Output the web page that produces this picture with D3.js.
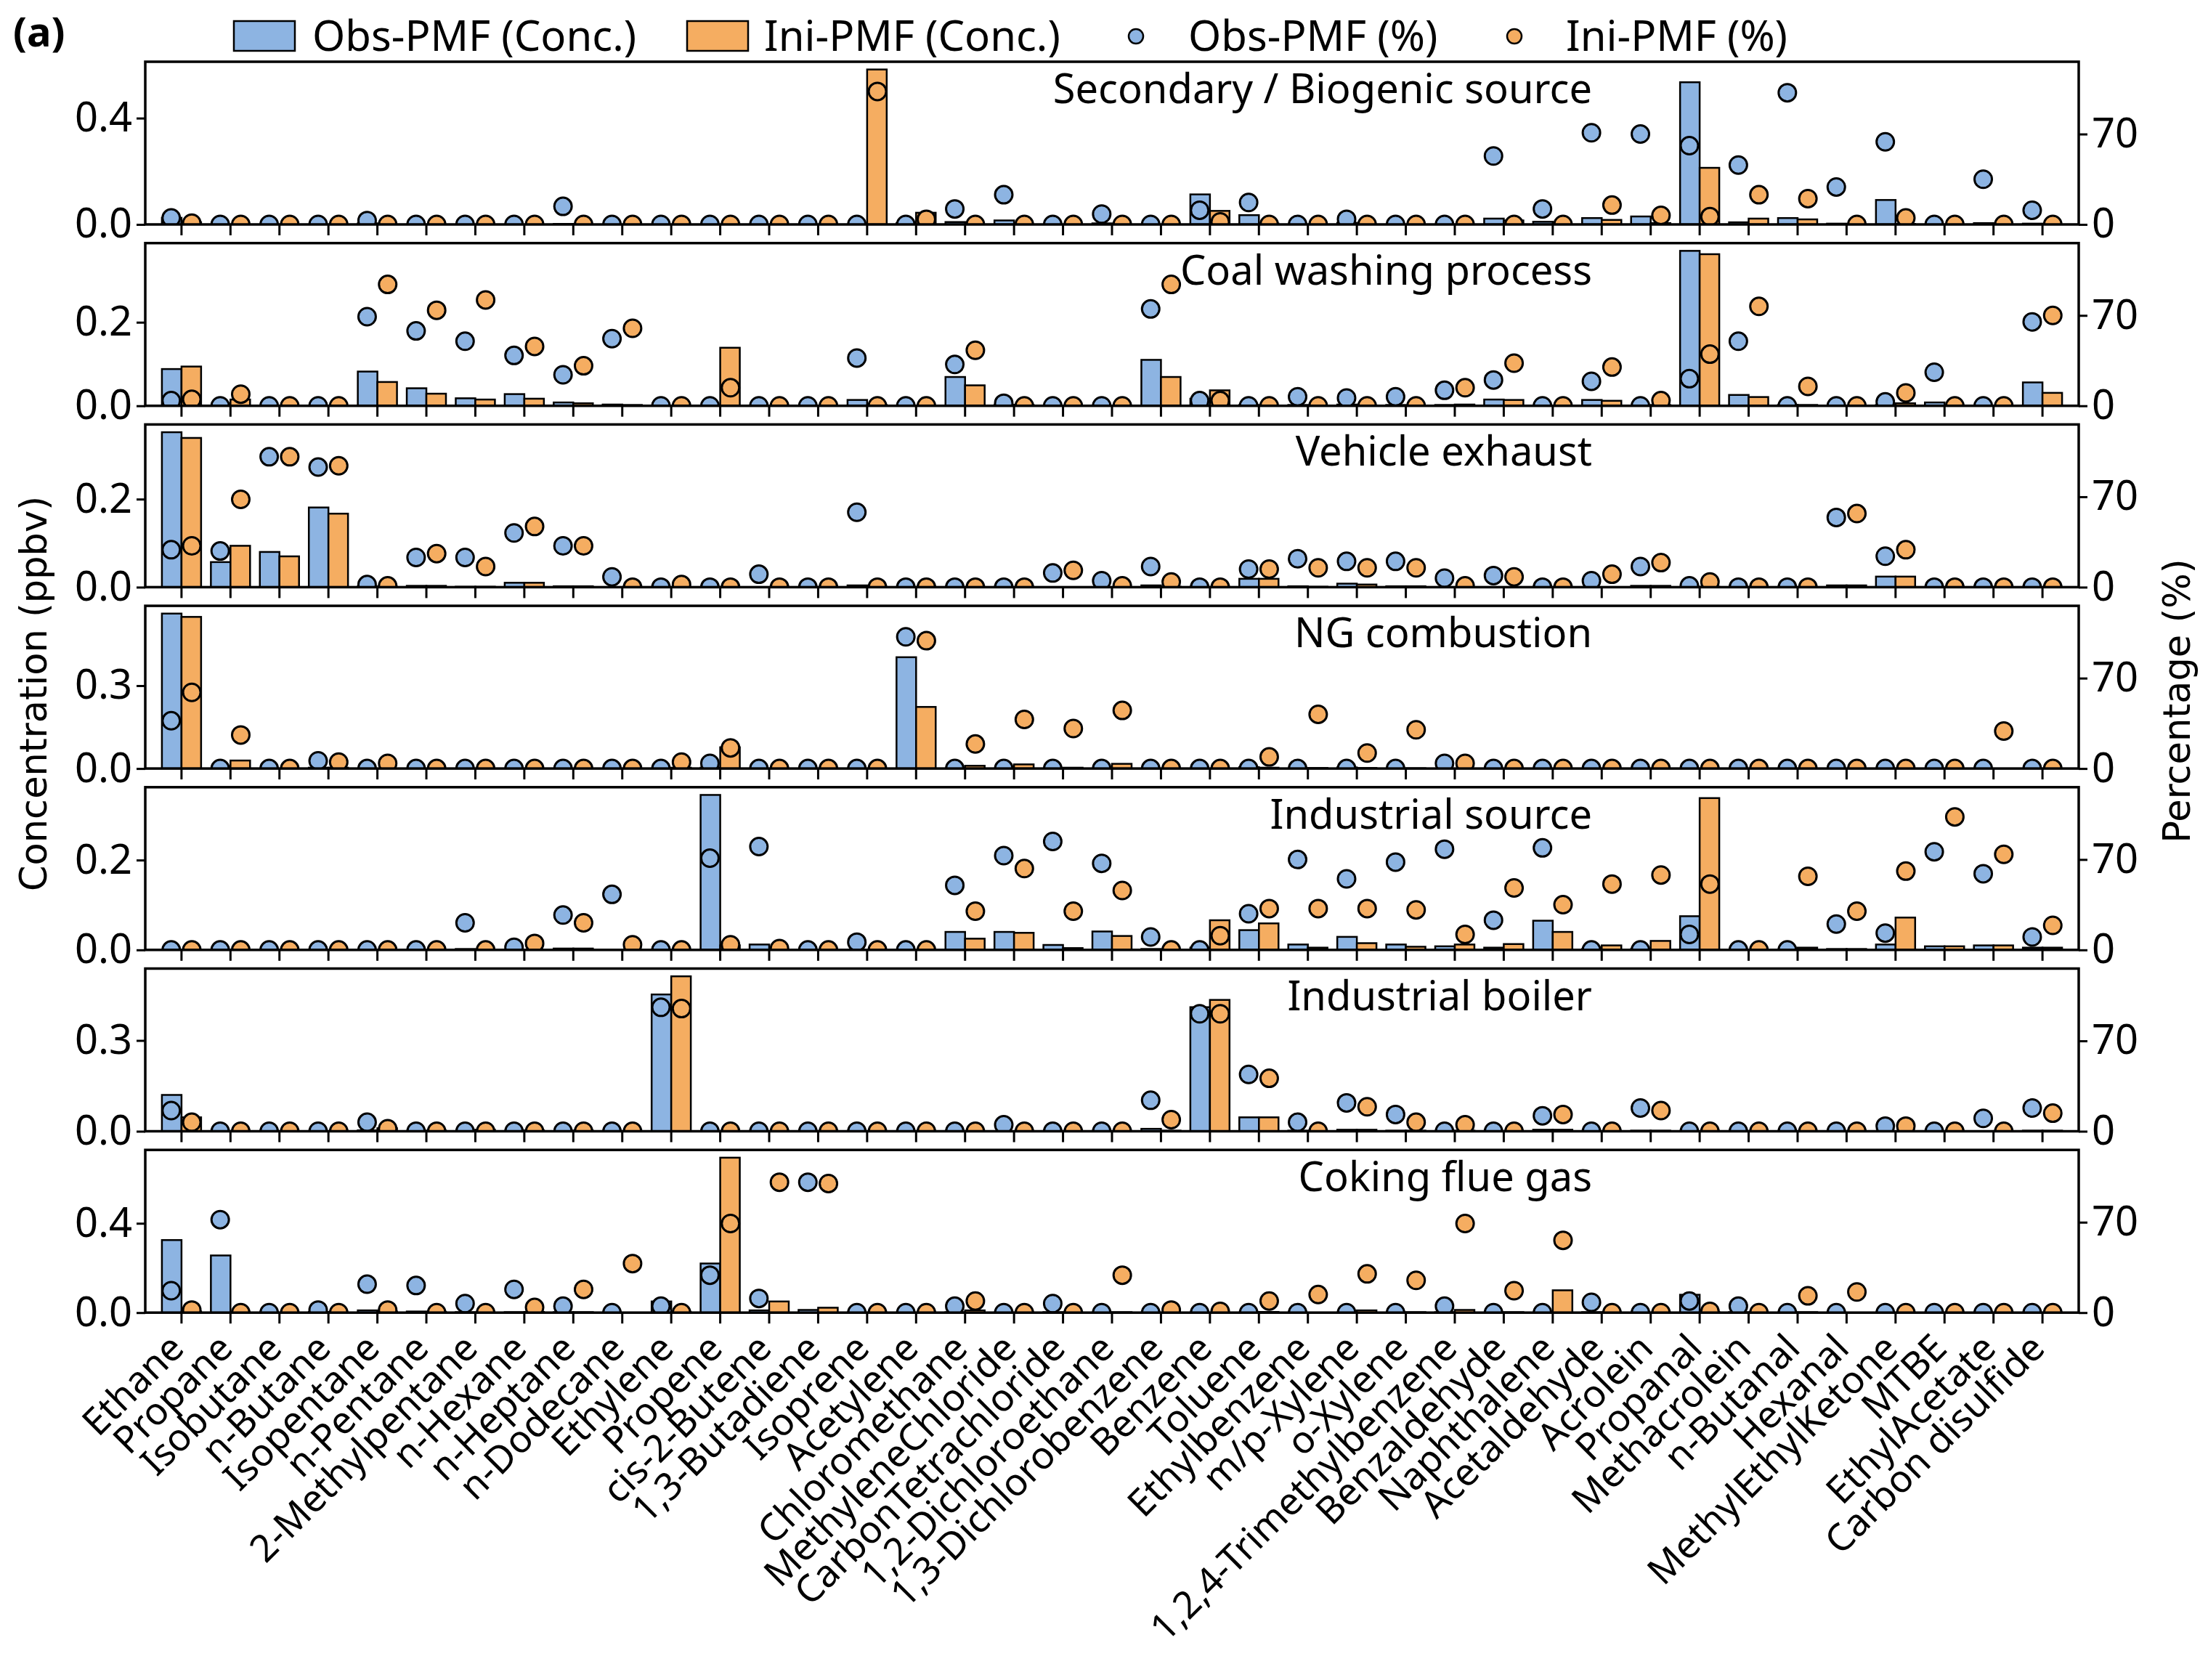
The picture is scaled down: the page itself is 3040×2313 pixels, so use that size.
<!DOCTYPE html>
<html>
<head>
<meta charset="utf-8">
<script src="https://cdn.jsdelivr.net/npm/d3@7"></script>
<style>
body { margin: 0; background: #fff; }
svg text { font-family: "Noto Sans", "Open Sans", sans-serif; fill: #000; }
svg text.axis-title { font-family: "DejaVu Sans", sans-serif; }
</style>
</head>
<body>
<div id="chart"></div>
<script>
// species on the x axis
const species = ["Ethane", "Propane", "Isobutane", "n-Butane", "Isopentane", "n-Pentane",
    "2-Methylpentane", "n-Hexane", "n-Heptane", "n-Dodecane", "Ethylene", "Propene",
    "cis-2-Butene", "1,3-Butadiene", "Isoprene", "Acetylene", "Chloromethane",
    "MethyleneChloride", "CarbonTetrachloride", "1,2-Dichloroethane", "1,3-Dichlorobenzene",
    "Benzene", "Toluene", "Ethylbenzene", "m/p-Xylene", "o-Xylene", "1,2,4-Trimethylbenzene",
    "Benzaldehyde", "Naphthalene", "Acetaldehyde", "Acrolein", "Propanal", "Methacrolein",
    "n-Butanal", "Hexanal", "MethylEthylKetone", "MTBE", "EthylAcetate", "Carbon disulfide"];

// source factors (one panel each)
const sources = ["Secondary / Biogenic source", "Coal washing process", "Vehicle exhaust",
    "NG combustion", "Industrial source", "Industrial boiler", "Coking flue gas"];

// upper tick on the concentration axis of each panel
const concTicks = [0.4, 0.2, 0.2, 0.3, 0.2, 0.3, 0.4];
const pctTicks = [0, 70];
const pctMax = 126;

// Secondary / Biogenic source
const secObsConc = [0.025,0,0,0,0.004,0,0,0,0.002,0,0,0,0,0,0,0.005,0.009,0.015,0,0.004,0,0.113,0.035,0,0.006,0,0,0.022,0.010,0.024,0.030,0.535,0.008,0.024,0.003,0.092,0,0.005,0.003];
const secIniConc = [0.008,0,0,0,0,0,0,0,0,0,0,0,0,0,0.583,0.044,0,0,0,0,0,0.051,0.003,0,0,0,0,0.015,0,0.017,0.005,0.213,0.022,0.019,0,0.002,0,0,0];
const secObsPct = [5,0,0,0,3,0,0,0,14,0,0,0,0,0,0,0,12,23,0,8,0,11,17,0,4,0,0,53,12,71,70,61,46,102,29,64,0,35,11];
const secIniPct = [1,0,0,0,0,0,0,0,0,0,0,0,0,0,103,4,0,0,0,0,0,2,0,0,0,0,0,0,0,15,7,6,23,20,0,5,0,0,0];

// Coal washing process
const coalObsConc = [0.088,0,0,0,0.082,0.042,0.018,0.028,0.008,0.003,0,0,0,0,0.014,0,0.069,0.002,0,0,0.11,0.017,0.002,0.002,0.003,0.002,0.002,0.015,0,0.014,0,0.371,0.026,0.002,0,0.002,0.008,0,0.056];
const coalIniConc = [0.094,0.015,0,0,0.057,0.029,0.015,0.017,0.006,0.002,0,0.139,0,0,0.002,0,0.049,0.002,0,0,0.069,0.037,0,0,0.001,0,0.003,0.014,0,0.012,0.002,0.363,0.021,0.002,0,0.006,0.001,0,0.031];
const coalObsPct = [4,0,0,0,69,58,50,39,24,52,0,0,0,0,37,0,32,2,0,0,75,4,0,7,6,7,12,20,0,19,0,21,50,0,0,3,26,0,65];
const coalIniPct = [5,9,0,0,94,74,82,46,31,60,0,14,0,0,0,0,43,0,0,0,94,4,0,0,0,0,14,33,0,30,4,40,77,15,0,10,0,0,70];

// Vehicle exhaust
const vehObsConc = [0.352,0.057,0.08,0.181,0.002,0.003,0.001,0.01,0.002,0,0,0,0,0,0.004,0,0,0,0,0,0.004,0,0.019,0.002,0.008,0.002,0,0,0,0,0.003,0,0,0,0.004,0.024,0,0,0];
const vehIniConc = [0.339,0.094,0.07,0.167,0.001,0.003,0.001,0.01,0.002,0,0,0,0,0,0,0,0,0,0,0,0.001,0,0.019,0.001,0.006,0.002,0,0,0,0,0.003,0.001,0,0,0.004,0.024,0,0,0];
const vehObsPct = [29,28,101,93,2,23,23,42,32,8,0,0,10,0,58,0,0,0,11,5,16,0,14,22,20,20,7,9,0,5,16,1,0,0,54,24,0,0,0];
const vehIniPct = [32,68,101,94,1,26,16,47,32,0,2,0,0,0,0,0,0,0,13,1,4,0,14,15,15,15,1,8,0,10,19,4,0,0,57,29,0,0,0];

// NG combustion
const ngObsConc = [0.561,0,0,0.003,0,0,0,0,0,0,0,0.003,0,0,0,0.403,0,0,0,0,0,0,0.005,0,0.004,0,0,0,0,0,0,0,0,0,0,0,0,0,0];
const ngIniConc = [0.549,0.029,0,0.003,0,0,0,0,0,0,0.003,0.077,0,0,0,0.223,0.01,0.015,0.003,0.017,0,0,0.003,0.002,0.002,0.001,0,0,0,0,0,0,0,0,0,0,0,0,0];
const ngObsPct = [37,0,0,6,0,0,0,0,0,0,0,4,0,0,0,102,0,0,0,0,0,0,0,0,0,0,4,0,0,0,0,0,0,0,0,0,0,0,0];
const ngIniPct = [59,26,0,5,4,0,0,0,0,0,5,16,0,0,0,99,19,38,31,45,0,0,9,42,12,30,4,0,0,0,0,0,0,0,0,0,0,29,0];

// Industrial source
const indObsConc = [0,0,0,0,0,0,0.002,0,0.003,0,0,0.345,0.012,0,0,0,0.04,0.04,0.011,0.041,0.002,0.005,0.044,0.012,0.029,0.012,0.008,0.005,0.065,0.002,0.002,0.075,0,0.001,0.002,0.012,0.008,0.01,0.005];
const indIniConc = [0,0,0,0,0,0,0,0,0.003,0,0,0.01,0,0,0,0,0.025,0.038,0.004,0.031,0,0.066,0.059,0.005,0.015,0.007,0.012,0.013,0.04,0.01,0.02,0.338,0,0.005,0.002,0.072,0.008,0.01,0.005];
const indObsPct = [0,0,0,0,0,0,21,2,27,43,0,71,80,0,6,0,50,73,84,67,10,0,28,70,55,68,78,23,79,0,0,12,0,0,20,13,76,59,10];
const indIniPct = [0,0,0,0,0,0,0,5,21,4,0,4,1,0,0,0,30,63,30,46,0,11,32,32,32,31,12,48,35,51,58,51,0,57,30,61,103,74,19];

// Industrial boiler
const boilObsConc = [0.12,0,0,0,0.003,0,0,0,0,0,0.452,0,0,0,0,0,0,0,0,0,0.008,0.41,0.046,0.002,0.005,0.002,0,0,0.005,0,0.002,0,0,0,0,0,0,0,0.002];
const boilIniConc = [0.046,0,0,0,0.01,0.002,0.005,0.003,0.002,0,0.512,0,0,0,0,0,0,0,0,0,0.002,0.434,0.046,0,0.005,0.002,0.002,0,0.005,0,0.002,0,0,0,0,0,0,0,0.002];
const boilObsPct = [16,0,0,0,7,0,0,0,0,0,96,0,0,0,0,0,0,5,0,0,24,91,44,7,22,13,0,0,12,0,18,0,0,0,0,4,0,10,18];
const boilIniPct = [7,0,0,0,2,0,0,0,0,0,95,0,0,0,0,0,0,0,0,0,9,91,41,0,19,7,5,0,13,0,16,0,0,0,0,4,0,0,14];

// Coking flue gas
const cokeObsConc = [0.325,0.256,0,0.003,0.01,0.005,0.002,0.002,0.002,0,0.05,0.22,0.01,0.012,0,0,0.002,0,0.002,0,0,0,0,0,0,0,0.002,0,0,0.002,0,0.08,0.002,0,0,0,0,0,0];
const cokeIniConc = [0.005,0,0,0,0.005,0.003,0,0.003,0.002,0,0.002,0.694,0.05,0.022,0,0,0.01,0,0,0.002,0,0,0.003,0,0.01,0.002,0.012,0.002,0.1,0,0,0.003,0,0.002,0,0,0,0,0];
const cokeObsPct = [17,72,0,2,22,21,7,18,5,0,5,29,11,101,0,0,5,0,7,0,0,0,0,0,0,0,5,0,0,8,0,9,5,0,0,0,0,0,0];
const cokeIniPct = [2,0,0,0,2,0,0,4,18,38,0,69,101,100,0,0,9,0,0,29,2,1,9,14,30,25,69,17,56,0,0,1,0,13,16,0,0,0,0];

const legendLabels = ["Obs-PMF (Conc.)", "Ini-PMF (Conc.)", "Obs-PMF (%)", "Ini-PMF (%)"];

// layout
const width = 3040;
const height = 2313;
const plotLeft = 200;
const plotRight = 2862;
const panelTop = 85;
const panelHeight = 224;
const panelStep = 249.7;
const blue = "#8db4e2";
const orange = "#f5ad61";
const fontSize = 56;

const panels = [
    { obsConc: secObsConc, iniConc: secIniConc, obsPct: secObsPct, iniPct: secIniPct },
    { obsConc: coalObsConc, iniConc: coalIniConc, obsPct: coalObsPct, iniPct: coalIniPct },
    { obsConc: vehObsConc, iniConc: vehIniConc, obsPct: vehObsPct, iniPct: vehIniPct },
    { obsConc: ngObsConc, iniConc: ngIniConc, obsPct: ngObsPct, iniPct: ngIniPct },
    { obsConc: indObsConc, iniConc: indIniConc, obsPct: indObsPct, iniPct: indIniPct },
    { obsConc: boilObsConc, iniConc: boilIniConc, obsPct: boilObsPct, iniPct: boilIniPct },
    { obsConc: cokeObsConc, iniConc: cokeIniConc, obsPct: cokeObsPct, iniPct: cokeIniPct },
];

const svg = d3.select("#chart")
    .append("svg")
    .attr("width", width)
    .attr("height", height);

const x = d3.scaleBand()
    .domain(d3.range(species.length))
    .range([plotLeft, plotRight])
    .paddingInner(0)
    .paddingOuter(0.24);
const step = x.step();
const barW = step * 0.4;
const center = (i) => x(i) + step / 2;

panels.forEach((p, k) => {
    const top = panelTop + k * panelStep;
    const bottom = top + panelHeight;

    const ymax = d3.max(p.obsConc.concat(p.iniConc)) * 1.05;
    const y = d3.scaleLinear().domain([0, ymax]).range([bottom, top]);
    const yPct = d3.scaleLinear().domain([0, pctMax]).range([bottom, top]);

    const g = svg.append("g").attr("class", "panel");

    g.append("clipPath").attr("id", "clip" + k)
        .append("rect")
        .attr("x", plotLeft).attr("y", top)
        .attr("width", plotRight - plotLeft).attr("height", panelHeight);

    const plot = g.append("g").attr("clip-path", "url(#clip" + k + ")");

    // bars
    plot.selectAll(".obs-bar")
        .data(p.obsConc)
        .enter()
        .append("rect")
        .attr("x", (d, i) => center(i) - barW)
        .attr("y", (d) => y(d))
        .attr("width", barW)
        .attr("height", (d) => bottom - y(d))
        .attr("fill", blue)
        .attr("stroke", "#000")
        .attr("stroke-width", 2.5);

    plot.selectAll(".ini-bar")
        .data(p.iniConc)
        .enter()
        .append("rect")
        .attr("x", (d, i) => center(i))
        .attr("y", (d) => y(d))
        .attr("width", barW)
        .attr("height", (d) => bottom - y(d))
        .attr("fill", orange)
        .attr("stroke", "#000")
        .attr("stroke-width", 2.5);

    // percentage markers
    plot.selectAll(".obs-pct")
        .data(p.obsPct)
        .enter()
        .append("circle")
        .attr("cx", (d, i) => center(i) - step * 0.21)
        .attr("cy", (d) => yPct(d))
        .attr("r", 12)
        .attr("fill", blue)
        .attr("stroke", "#000")
        .attr("stroke-width", 3);

    plot.selectAll(".ini-pct")
        .data(p.iniPct)
        .enter()
        .append("circle")
        .attr("cx", (d, i) => center(i) + step * 0.21)
        .attr("cy", (d) => yPct(d))
        .attr("r", 12)
        .attr("fill", orange)
        .attr("stroke", "#000")
        .attr("stroke-width", 3);

    // frame
    g.append("rect")
        .attr("x", plotLeft).attr("y", top)
        .attr("width", plotRight - plotLeft).attr("height", panelHeight)
        .attr("fill", "none")
        .attr("stroke", "#000")
        .attr("stroke-width", 3.5);

    // left axis
    const yAxis = d3.axisLeft(y)
        .tickValues([0, concTicks[k]])
        .tickFormat(d3.format(".1f"))
        .tickSize(12)
        .tickPadding(6);
    g.append("g")
        .attr("transform", "translate(" + plotLeft + ",0)")
        .call(yAxis)
        .call((a) => a.select(".domain").remove())
        .attr("font-size", fontSize);

    // right axis
    const pAxis = d3.axisRight(yPct)
        .tickValues(pctTicks)
        .tickSize(12)
        .tickPadding(6);
    g.append("g")
        .attr("transform", "translate(" + plotRight + ",0)")
        .call(pAxis)
        .call((a) => a.select(".domain").remove())
        .attr("font-size", fontSize);

    // bottom ticks, labels only on the last panel
    const xAxis = d3.axisBottom(x)
        .tickSize(15)
        .tickFormat((i) => (k === panels.length - 1 ? species[i] : ""));
    const xg = g.append("g")
        .attr("transform", "translate(0," + bottom + ")")
        .call(xAxis)
        .call((a) => a.select(".domain").remove())
        .attr("font-size", 52);
    xg.selectAll("text")
        .attr("x", 0)
        .attr("y", 0)
        .attr("dy", 0)
        .attr("text-anchor", "end")
        .attr("transform", "translate(6,52) rotate(-45)");

    g.selectAll(".tick line").attr("stroke-width", 3);

    // title
    g.append("text")
        .attr("x", 2192)
        .attr("y", top + 57)
        .attr("text-anchor", "end")
        .attr("font-size", fontSize)
        .text(sources[k]);
});

// axis titles
svg.append("text")
    .attr("class", "axis-title")
    .attr("transform", "translate(64,955) rotate(-90)")
    .attr("text-anchor", "middle")
    .attr("font-size", 51)
    .text("Concentration (ppbv)");

svg.append("text")
    .attr("class", "axis-title")
    .attr("transform", "translate(3015,965) rotate(-90)")
    .attr("text-anchor", "middle")
    .attr("font-size", 51)
    .text("Percentage (%)");

// panel tag
svg.append("text")
    .attr("x", 18)
    .attr("y", 64)
    .attr("font-size", fontSize)
    .attr("font-weight", "bold")
    .text("(a)");

// legend
const legendX = [322, 946, 1564, 2085];
const legendTextX = [430, 1052, 1636, 2156];
const legend = svg.append("g").attr("class", "legend");
legend.append("rect").attr("x", legendX[0]).attr("y", 29).attr("width", 84).attr("height", 41)
    .attr("fill", blue).attr("stroke", "#000").attr("stroke-width", 2.5);
legend.append("rect").attr("x", legendX[1]).attr("y", 29).attr("width", 84).attr("height", 41)
    .attr("fill", orange).attr("stroke", "#000").attr("stroke-width", 2.5);
legend.append("circle").attr("cx", legendX[2]).attr("cy", 50).attr("r", 10)
    .attr("fill", blue).attr("stroke", "#000").attr("stroke-width", 2.5);
legend.append("circle").attr("cx", legendX[3]).attr("cy", 50).attr("r", 10)
    .attr("fill", orange).attr("stroke", "#000").attr("stroke-width", 2.5);
legend.selectAll(".legend-text")
    .data(legendLabels)
    .enter()
    .append("text")
    .attr("x", (d, i) => legendTextX[i])
    .attr("y", 70)
    .attr("font-size", 58)
    .text((d) => d);
</script>
</body>
</html>
